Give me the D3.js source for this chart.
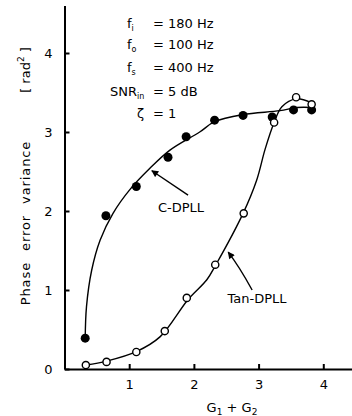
<!DOCTYPE html>
<html>
<head>
<meta charset="utf-8">
<script src="https://cdn.jsdelivr.net/npm/d3@7"></script>
<style>
  body { margin: 0; background: #fff; }
  svg { display: block; font-family: "DejaVu Sans", sans-serif; }
  .axis path, .axis line { stroke: #000; stroke-width: 2; }
  .axis text { font-size: 13px; fill: #000; }
  .fit { fill: none; stroke: #000; stroke-width: 1.4; }
  .note { font-size: 13px; fill: #000; }
</style>
</head>
<body>
<div id="chart"></div>
<script>
// measured points, G1 + G2 vs phase error variance
const cG = [0.32, 0.64, 1.11, 1.6, 1.88, 2.32, 2.76, 3.21, 3.54, 3.82];
const cVar = [0.39, 1.94, 2.31, 2.68, 2.94, 3.15, 3.21, 3.19, 3.28, 3.28];
const tanG = [0.33, 0.65, 1.11, 1.55, 1.89, 2.33, 2.77, 3.24, 3.58, 3.82];
const tanVar = [0.05, 0.09, 0.215, 0.48, 0.9, 1.32, 1.97, 3.12, 3.44, 3.35];

// hand drawn fitted curves
const cFitG = [0.32, 0.34, 0.42, 0.55, 0.75, 1.01, 1.32, 1.63, 2.09, 2.32, 2.76, 3.33, 3.59, 3.84];
const cFitVar = [0.39, 0.79, 1.25, 1.63, 1.97, 2.27, 2.54, 2.77, 3.0, 3.13, 3.22, 3.27, 3.31, 3.31];
const tanFitG = [0.33, 0.65, 1.11, 1.48, 1.91, 2.2, 2.34, 2.76, 2.97, 3.1, 3.24, 3.36, 3.58, 3.82];
const tanFitVar = [0.05, 0.1, 0.22, 0.41, 0.88, 1.13, 1.32, 1.97, 2.39, 2.78, 3.12, 3.32, 3.42, 3.37];

const xTicks = [1, 2, 3, 4];
const yTicks = [0, 1, 2, 3, 4];

const params = [
    { name: "f", sub: "i", value: "= 180 Hz" },
    { name: "f", sub: "o", value: "= 100 Hz" },
    { name: "f", sub: "s", value: "= 400 Hz" },
    { name: "SNR", sub: "in", value: "= 5 dB" },
    { name: "\u03b6", sub: "", value: "= 1" }
];

const width = 352;
const height = 416;

const svg = d3.select("#chart")
    .append("svg")
    .attr("width", width)
    .attr("height", height);

const x = d3.scaleLinear().domain([0, 4.45]).range([64.5, 352.4]);
const y = d3.scaleLinear().domain([0, 4.6]).range([369, 5.6]);

svg.append("defs")
    .append("marker")
    .attr("id", "head")
    .attr("viewBox", "0 0 10 10")
    .attr("refX", 9)
    .attr("refY", 5)
    .attr("markerWidth", 9)
    .attr("markerHeight", 7)
    .attr("markerUnits", "userSpaceOnUse")
    .attr("orient", "auto")
    .append("path")
    .attr("d", "M0,0 L10,5 L0,10 z")
    .attr("fill", "#000");

// axes, ticks point inward
svg.append("g")
    .attr("class", "axis")
    .attr("transform", `translate(0,${y(0)})`)
    .call(d3.axisBottom(x).tickValues(xTicks).tickSizeInner(-5).tickSizeOuter(0).tickPadding(11).tickFormat(d3.format("d")));

svg.append("g")
    .attr("class", "axis")
    .attr("transform", `translate(${x(0)},0)`)
    .call(d3.axisLeft(y).tickValues(yTicks).tickSizeInner(-5).tickSizeOuter(0).tickPadding(12).tickFormat(d3.format("d")));

svg.selectAll(".axis text").attr("font-family", "DejaVu Sans");

// axis titles
const xt = svg.append("text")
    .attr("x", 232)
    .attr("y", 412)
    .attr("text-anchor", "middle")
    .attr("class", "note");
xt.append("tspan").text("G");
xt.append("tspan").attr("font-size", 9).attr("dy", 3).text("1");
xt.append("tspan").attr("dy", -3).text(" + G");
xt.append("tspan").attr("font-size", 9).attr("dy", 3).text("2");

svg.append("text")
    .attr("class", "note")
    .attr("transform", "translate(30,223) rotate(-90)")
    .attr("text-anchor", "middle")
    .attr("font-size", 14)
    .attr("letter-spacing", 0.9)
    .attr("word-spacing", 6)
    .text("Phase error variance");

const unit = svg.append("text")
    .attr("class", "note")
    .attr("transform", "translate(30,70) rotate(-90)")
    .attr("text-anchor", "middle")
    .attr("font-size", 14);
unit.append("tspan").text("[ rad");
unit.append("tspan").attr("font-size", 9).attr("dy", -6).text("2");
unit.append("tspan").attr("dy", 6).text(" ]");

// fitted curves
const line = d3.line()
    .x((d) => x(d[0]))
    .y((d) => y(d[1]))
    .curve(d3.curveCatmullRom.alpha(0.5));

svg.append("path")
    .attr("class", "fit")
    .attr("d", line(d3.zip(cFitG, cFitVar)));

svg.append("path")
    .attr("class", "fit")
    .attr("d", line(d3.zip(tanFitG, tanFitVar)));

// points
svg.selectAll(".cpt")
    .data(d3.zip(cG, cVar))
    .enter()
    .append("circle")
    .attr("class", "cpt")
    .attr("cx", (d) => x(d[0]))
    .attr("cy", (d) => y(d[1]))
    .attr("r", 4.5)
    .attr("fill", "#000");

svg.selectAll(".tpt")
    .data(d3.zip(tanG, tanVar))
    .enter()
    .append("circle")
    .attr("class", "tpt")
    .attr("cx", (d) => x(d[0]))
    .attr("cy", (d) => y(d[1]))
    .attr("r", 3.6)
    .attr("fill", "#fff")
    .attr("stroke", "#000")
    .attr("stroke-width", 1.4);

// curve labels with arrows
svg.append("text")
    .attr("class", "note")
    .attr("font-size", 14)
    .attr("x", x(1.445))
    .attr("y", y(1.99))
    .text("C-DPLL");

svg.append("path")
    .attr("class", "fit")
    .attr("marker-end", "url(#head)")
    .attr("d", `M${x(1.91)},${y(2.20)} L${x(1.35)},${y(2.51)}`);

svg.append("text")
    .attr("class", "note")
    .attr("font-size", 14)
    .attr("x", x(2.52))
    .attr("y", y(0.84))
    .text("Tan-DPLL");

svg.append("path")
    .attr("class", "fit")
    .attr("marker-end", "url(#head)")
    .attr("d", `M${x(2.9)},${y(1.0)} Q${x(2.7)},${y(1.3)} ${x(2.53)},${y(1.48)}`);

// parameter block
const rowY = [27.7, 49.3, 71.7, 96, 118];
params.forEach((p, i) => {
    const left = p.name === "SNR" ? 110 : (p.sub ? 127 : 137);
    const t = svg.append("text")
        .attr("class", "note")
        .attr("x", left)
        .attr("y", rowY[i]);
    t.append("tspan").text(p.name);
    if (p.sub) {
        t.append("tspan").attr("font-size", 8).attr("dy", 3).text(p.sub);
    }
    svg.append("text")
        .attr("class", "note")
        .attr("x", 153)
        .attr("y", rowY[i])
        .text(p.value);
});
</script>
</body>
</html>
